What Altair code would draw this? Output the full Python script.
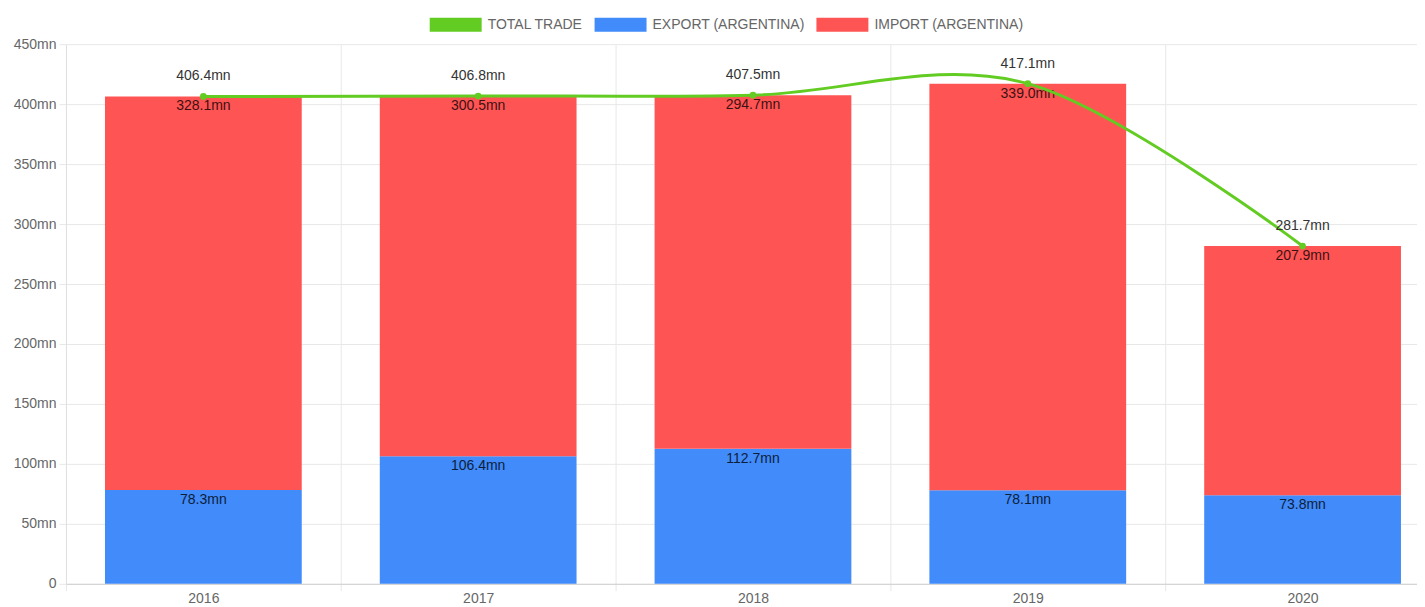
import altair as alt
import pandas as pd

years = ["2016", "2017", "2018", "2019", "2020"]
export_vals = [78.3, 106.4, 112.7, 78.1, 73.8]
import_vals = [328.1, 300.5, 294.7, 339.0, 207.9]
total_vals = [406.4, 406.8, 407.5, 417.1, 281.7]

series_names = ["TOTAL TRADE", "EXPORT (ARGENTINA)", "IMPORT (ARGENTINA)"]
GREEN, BLUE, RED = "#63CC22", "#418BFA", "#FF5454"

rows = []
for y, e, i in zip(years, export_vals, import_vals):
    rows.append({"year": y, "series": "EXPORT (ARGENTINA)", "start": 0.0, "end": e, "value": e})
    rows.append({"year": y, "series": "IMPORT (ARGENTINA)", "start": e, "end": e + i, "value": i})
bars_df = pd.DataFrame(rows)
total_df = pd.DataFrame({"year": years, "total": total_vals})

FONT = "Liberation Sans"
FS = 14

x_scale = alt.Scale(domain=years, range=[0, 1375], paddingInner=0, paddingOuter=0)
y_scale = alt.Scale(domain=[0, 450], nice=False)

x_axis = alt.Axis(title=None, labelAngle=0, tickBand="extent", grid=True, gridColor="#e8e8e8",
                  tickColor="#e8e8e8", tickSize=7, domainColor="#d0d0d0", labelColor="#666",
                  labelFontSize=FS, labelFont=FONT, labelPadding=1)
y_axis = alt.Axis(title=None, values=list(range(0, 451, 50)),
                  labelExpr="datum.value == 0 ? '0' : datum.value + 'mn'",
                  gridColor="#e8e8e8", tickColor="#e8e8e8", tickSize=7, domainColor="#e0e0e0",
                  labelColor="#666", labelFontSize=FS, labelFont=FONT, labelPadding=3)

legend = alt.Legend(title=None, orient="none", direction="horizontal", legendX=364, legendY=-46,
                    symbolType="M-1,-0.27H1V0.27H-1Z", symbolSize=2704, symbolStrokeWidth=0,
                    symbolOpacity=1, labelFont=FONT, labelFontSize=FS, labelColor="#666",
                    labelOffset=6, columnPadding=11)

base_bar = alt.Chart(bars_df)

bars = base_bar.mark_bar(width=alt.RelativeBandSize(0.716)).encode(
    x=alt.X("year:N", scale=x_scale, axis=x_axis),
    y=alt.Y("end:Q", scale=y_scale, axis=y_axis),
    y2="start:Q",
    color=alt.Color("series:N", scale=alt.Scale(domain=series_names, range=[GREEN, BLUE, RED]), legend=legend),
)

bar_labels = base_bar.mark_text(baseline="middle", dy=10, font=FONT, fontSize=FS, color="#000", opacity=0.78).encode(
    x=alt.X("year:N", scale=x_scale),
    y=alt.Y("end:Q", scale=y_scale),
    text="label:N",
).transform_calculate(label="format(datum.value, '.1f') + 'mn'")

base_tot = alt.Chart(total_df)
line = base_tot.mark_line(interpolate="cardinal", tension=0, color=GREEN, strokeWidth=3).encode(
    x=alt.X("year:N", scale=x_scale),
    y=alt.Y("total:Q", scale=y_scale),
)
points = base_tot.mark_point(filled=True, size=45, color=GREEN, opacity=1).encode(
    x=alt.X("year:N", scale=x_scale),
    y=alt.Y("total:Q", scale=y_scale),
)
tot_labels = base_tot.mark_text(baseline="middle", dy=-20, font=FONT, fontSize=FS, color="#333").encode(
    x=alt.X("year:N", scale=x_scale),
    y=alt.Y("total:Q", scale=y_scale),
    text="label:N",
).transform_calculate(label="format(datum.total, '.1f') + 'mn'")

chart = alt.layer(bars, bar_labels, line, points, tot_labels).properties(
    width=1352, height=540,
    autosize=alt.AutoSizeParams(type="none"),
    padding={"left": 58, "top": 36, "right": 0, "bottom": 22},
).configure_view(stroke=None)

chart.save("out.html", embed_options={"renderer": "svg", "actions": False})
